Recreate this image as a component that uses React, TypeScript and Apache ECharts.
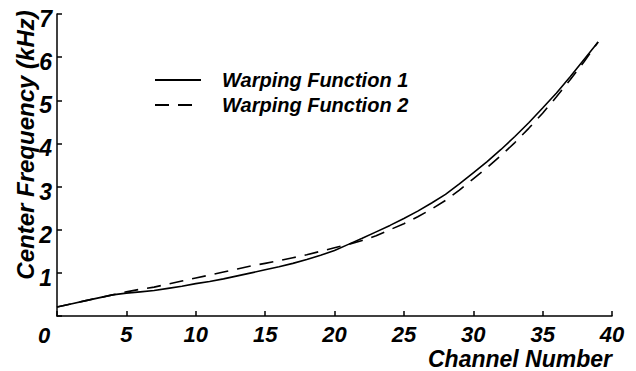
import React, { useEffect, useRef } from "react";
import * as echarts from "echarts";

const channels: number[] = Array.from({ length: 40 }, (_, i) => i);
const warping1: number[] = [
  0.21, 0.28, 0.35, 0.42, 0.49, 0.53, 0.56, 0.59, 0.64, 0.69,
  0.75, 0.8, 0.86, 0.93, 1.0, 1.07, 1.14, 1.22, 1.31, 1.41,
  1.52, 1.66, 1.8, 1.95, 2.1, 2.26, 2.43, 2.62, 2.82, 3.06,
  3.32, 3.58, 3.86, 4.16, 4.48, 4.82, 5.17, 5.55, 5.95, 6.35,
];
const warping2: number[] = [
  0.21, 0.28, 0.35, 0.42, 0.49, 0.56, 0.62, 0.67, 0.74, 0.81,
  0.88, 0.95, 1.02, 1.09, 1.16, 1.22, 1.28, 1.35, 1.42, 1.5,
  1.58, 1.66, 1.75, 1.86, 2.0, 2.14, 2.3, 2.48, 2.68, 2.92,
  3.18, 3.44, 3.72, 4.02, 4.35, 4.7, 5.08, 5.48, 5.9, 6.35,
];
const seriesNames: string[] = ["Warping Function 1", "Warping Function 2"];
const xAxisTitle = "Channel Number";
const yAxisTitle = "Center Frequency (kHz)";

const FONT = "'Liberation Sans', Arial, sans-serif";

export default function App() {
  const ref = useRef<HTMLDivElement>(null);
  useEffect(() => {
    if (!ref.current) return;
    const chart = echarts.init(ref.current, undefined, { renderer: "svg" });
    const labelStyle = {
      fontFamily: FONT,
      fontWeight: "bold" as const,
      fontStyle: "italic" as const,
      color: "#000",
    };
    chart.setOption({
      animation: false,
      backgroundColor: "#fff",
      grid: { left: 57, right: 24, top: 14, bottom: 55, containLabel: false },
      legend: {
        orient: "vertical",
        left: 149,
        top: 65,
        itemWidth: 46,
        itemHeight: 14,
        itemGap: 5,
        data: seriesNames,
        itemStyle: { opacity: 0 },
        textStyle: { ...labelStyle, fontSize: 20, lineHeight: 20, padding: [0, 0, 0, 16] },
      },
      xAxis: {
        type: "value",
        min: 0,
        max: 40,
        interval: 5,
        splitLine: { show: false },
        axisLine: { lineStyle: { color: "#000", width: 1.5 } },
        axisTick: { inside: true, length: 5, lineStyle: { color: "#000", width: 1.5 } },
        axisLabel: {
          ...labelStyle,
          fontSize: 22,
          lineHeight: 18,
          margin: 9,
          formatter: (v: number) => (v === 0 ? "" : String(v)),
        },
      },
      yAxis: {
        type: "value",
        min: 0,
        max: 7,
        interval: 1,
        splitLine: { show: false },
        axisLine: { show: true, lineStyle: { color: "#000", width: 1.5 } },
        axisTick: { show: true, inside: true, length: 5, lineStyle: { color: "#000", width: 1.5 } },
        axisLabel: {
          ...labelStyle,
          fontSize: 23,
          margin: 5,
          verticalAlign: "top",
          lineHeight: 10,
          formatter: (v: number) => (v === 0 ? "" : String(v)),
        },
      },
      graphic: [
        {
          type: "text",
          x: 44,
          y: 335,
          style: { text: "0", ...labelStyle, fill: "#000", fontSize: 22, lineHeight: 18, align: "center", verticalAlign: "middle" },
        },
        {
          type: "text",
          x: 612,
          y: 359,
          style: { text: xAxisTitle, ...labelStyle, fill: "#000", fontSize: 23, lineHeight: 20, align: "right", verticalAlign: "middle" },
        },
        {
          type: "text",
          x: 25,
          y: 145,
          rotation: Math.PI / 2,
          style: { text: yAxisTitle, ...labelStyle, fill: "#000", fontSize: 24, align: "center", verticalAlign: "middle" },
        },
      ],
      series: [
        {
          name: seriesNames[0],
          type: "line",
          data: channels.map((c, i) => [c, warping1[i]]),
          symbol: "none",
          lineStyle: { color: "#000", width: 1.6, type: "solid" },
          itemStyle: { color: "#000" },
        },
        {
          name: seriesNames[1],
          type: "line",
          data: channels.map((c, i) => [c, warping2[i]]),
          symbol: "none",
          lineStyle: { color: "#000", width: 1.6, type: [14, 9] },
          itemStyle: { color: "#000" },
        },
      ],
    });
    return () => chart.dispose();
  }, []);
  return <div ref={ref} style={{ width: 636, height: 371, position: "absolute", left: 0, top: 0 }} />;
}
